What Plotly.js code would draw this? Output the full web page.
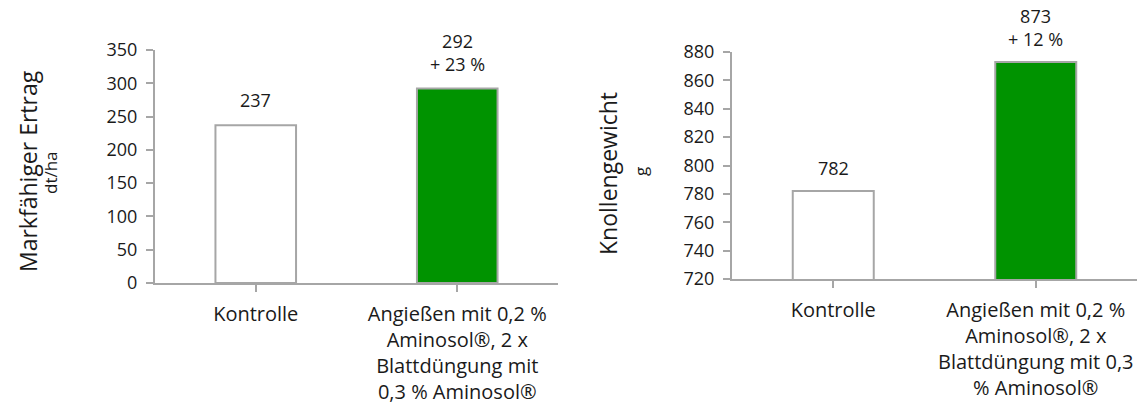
<!DOCTYPE html>
<html>
<head>
<meta charset="utf-8">
<script src="https://cdn.plot.ly/plotly-3.0.1.min.js"></script>
<style>html,body{margin:0;padding:0;background:#fff}#chart{width:1140px;height:408px}</style>
</head>
<body>
<div id="chart"></div>
<script>
const categories = ["Kontrolle", "Angießen mit 0,2 %<br>Aminosol®, 2 x<br>Blattdüngung mit<br>0,3 % Aminosol®"];
const categoriesRight = ["Kontrolle", "Angießen mit 0,2 %<br>Aminosol®, 2 x<br>Blattdüngung mit 0,3<br>% Aminosol®"];
const yieldValues = [237, 292];
const yieldLabels = ["237", "292<br>+ 23 %"];
const weightValues = [782, 873];
const weightLabels = ["782", "873<br>+ 12 %"];
const yieldTicks = [0, 50, 100, 150, 200, 250, 300, 350];
const weightTicks = [720, 740, 760, 780, 800, 820, 840, 860, 880];

const FONT = "Open Sans, sans-serif";
const TXT = "#1a1a1a";
const barColors = ["#ffffff", "#009300"];
const lineGray = "#a6a6a6";
const idx = [0, 1];

const traces = [
  {type: "bar", x: idx, y: yieldValues, xaxis: "x", yaxis: "y",
   marker: {color: barColors, line: {color: lineGray, width: 2}}, width: 0.4, hoverinfo: "skip"},
  {type: "bar", x: idx, y: weightValues, xaxis: "x2", yaxis: "y2",
   marker: {color: barColors, line: {color: lineGray, width: 2}}, width: 0.4, hoverinfo: "skip"}
];

const xCommon = {
  range: [-0.5, 1.5], tickmode: "array", tickvals: idx,
  showline: true, linecolor: lineGray, linewidth: 2,
  ticks: "outside", tickson: "boundaries", ticklen: 7, tickwidth: 2, tickcolor: lineGray,
  showgrid: false, zeroline: false, fixedrange: true, ticklabelstandoff: 5,
  tickfont: {family: FONT, size: 20, color: TXT}
};
const yCommon = {
  showline: true, linecolor: lineGray, linewidth: 2,
  ticks: "outside", ticklen: 7, tickwidth: 2, tickcolor: lineGray,
  showgrid: false, zeroline: false, fixedrange: true, ticklabelstandoff: 5,
  tickfont: {family: FONT, size: 18, color: TXT}, tickmode: "array"
};

const annotations = [];
idx.forEach(i => {
  annotations.push({xref: "x", yref: "y", x: i, y: yieldValues[i], text: yieldLabels[i],
    showarrow: false, yanchor: "bottom", yshift: 11, font: {family: FONT, size: 18, color: TXT}});
  annotations.push({xref: "x2", yref: "y2", x: i, y: weightValues[i], text: weightLabels[i],
    showarrow: false, yanchor: "bottom", yshift: 9, font: {family: FONT, size: 18, color: TXT}});
});
annotations.push(
  {xref: "paper", yref: "paper", x: 28/1140, y: 1 - 171/408, text: "Markfähiger Ertrag", textangle: -90,
   showarrow: false, xanchor: "center", yanchor: "middle", font: {family: FONT, size: 23, color: TXT}},
  {xref: "paper", yref: "paper", x: 50/1140, y: 1 - 173/408, text: "dt/ha", textangle: -90,
   showarrow: false, xanchor: "center", yanchor: "middle", font: {family: FONT, size: 17, color: TXT}},
  {xref: "paper", yref: "paper", x: 608/1140, y: 1 - 174/408, text: "Knollengewicht", textangle: -90,
   showarrow: false, xanchor: "center", yanchor: "middle", font: {family: FONT, size: 23, color: TXT}},
  {xref: "paper", yref: "paper", x: 640/1140, y: 1 - 172/408, text: "g", textangle: -90,
   showarrow: false, xanchor: "center", yanchor: "middle", font: {family: FONT, size: 17, color: TXT}}
);

const layout = {
  width: 1140, height: 408,
  margin: {l: 0, r: 0, t: 0, b: 0},
  paper_bgcolor: "#fff", plot_bgcolor: "#fff",
  showlegend: false, bargap: 0.6,
  xaxis: Object.assign({}, xCommon, {domain: [155/1140, 558/1140], anchor: "y", ticktext: categories}),
  yaxis: Object.assign({}, yCommon, {domain: [1 - 283/408, 1 - 50/408], anchor: "x", range: [0, 350],
    tickvals: yieldTicks, ticktext: yieldTicks.map(String)}),
  xaxis2: Object.assign({}, xCommon, {domain: [732/1140, 1137/1140], anchor: "y2", ticktext: categoriesRight}),
  yaxis2: Object.assign({}, yCommon, {domain: [1 - 279/408, 1 - 52/408], anchor: "x2", range: [720, 880],
    tickvals: weightTicks, ticktext: weightTicks.map(String)}),
  annotations: annotations
};

Plotly.newPlot("chart", traces, layout, {staticPlot: true, displayModeBar: false});
</script>
</body>
</html>
